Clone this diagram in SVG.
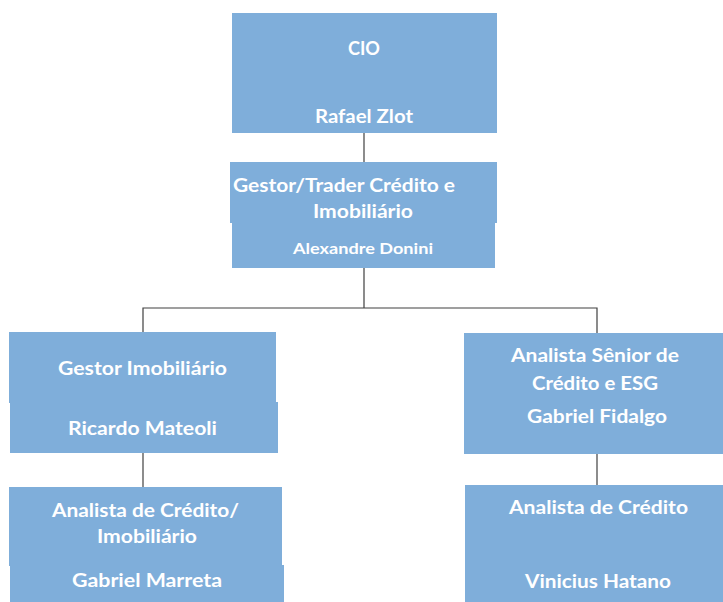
<svg xmlns="http://www.w3.org/2000/svg" width="723" height="602" viewBox="0 0 723 602">
<style>
.box{fill:#7FAEDA;}
.t{font-family:Lato,"Liberation Sans",sans-serif;font-weight:bold;font-size:19px;fill:#ffffff;}
.s{font-size:16px;}
.c{fill:none;stroke:#404040;stroke-width:1.2;}
</style>
<rect width="723" height="602" fill="#ffffff"/>
<g id="connectors">
<path class="c" d="M364,133 V162"/>
<path class="c" d="M364,268 V308 M143,332 V308 H597 V333"/>
<path class="c" d="M143,453 V487"/>
<path class="c" d="M597,454 V485"/>
</g>
<g id="cio">
<rect class="box" x="232" y="13" width="265" height="120"/>
<text class="t" x="348" y="55" textLength="32" lengthAdjust="spacingAndGlyphs">CIO</text>
<text class="t" x="315" y="123" textLength="98" lengthAdjust="spacingAndGlyphs">Rafael Zlot</text>
</g>
<g id="gestor-trader">
<rect class="box" x="230" y="162" width="267" height="61"/>
<rect class="box" x="232" y="222" width="263" height="46"/>
<text class="t" x="233" y="192" textLength="222" lengthAdjust="spacingAndGlyphs">Gestor/Trader Crédito e</text>
<text class="t" x="313" y="218" textLength="100" lengthAdjust="spacingAndGlyphs">Imobiliário</text>
<text class="t s" x="293" y="254" textLength="140" lengthAdjust="spacingAndGlyphs">Alexandre Donini</text>
</g>
<g id="gestor-imobiliario">
<rect class="box" x="9" y="332" width="267" height="71"/>
<rect class="box" x="10" y="402" width="268" height="51"/>
<text class="t" x="58" y="375" textLength="169" lengthAdjust="spacingAndGlyphs">Gestor Imobiliário</text>
<text class="t" x="68" y="435" textLength="149" lengthAdjust="spacingAndGlyphs">Ricardo Mateoli</text>
</g>
<g id="analista-credito-imobiliario">
<rect class="box" x="9" y="487" width="273" height="79"/>
<rect class="box" x="10" y="565" width="274" height="37"/>
<text class="t" x="52" y="517" textLength="187" lengthAdjust="spacingAndGlyphs">Analista de Crédito/</text>
<text class="t" x="97" y="543" textLength="100" lengthAdjust="spacingAndGlyphs">Imobiliário</text>
<text class="t" x="72" y="587" textLength="150" lengthAdjust="spacingAndGlyphs">Gabriel Marreta</text>
</g>
<g id="analista-senior">
<rect class="box" x="464" y="333" width="259" height="121"/>
<text class="t" x="511" y="362" textLength="168" lengthAdjust="spacingAndGlyphs">Analista Sênior de</text>
<text class="t" x="532" y="390" textLength="126" lengthAdjust="spacingAndGlyphs">Crédito e ESG</text>
<text class="t" x="527" y="423" textLength="140" lengthAdjust="spacingAndGlyphs">Gabriel Fidalgo</text>
</g>
<g id="analista-credito">
<rect class="box" x="465" y="485" width="258" height="117"/>
<text class="t" x="509" y="514" textLength="179" lengthAdjust="spacingAndGlyphs">Analista de Crédito</text>
<text class="t" x="525" y="588" textLength="146" lengthAdjust="spacingAndGlyphs">Vinicius Hatano</text>
</g>
</svg>
